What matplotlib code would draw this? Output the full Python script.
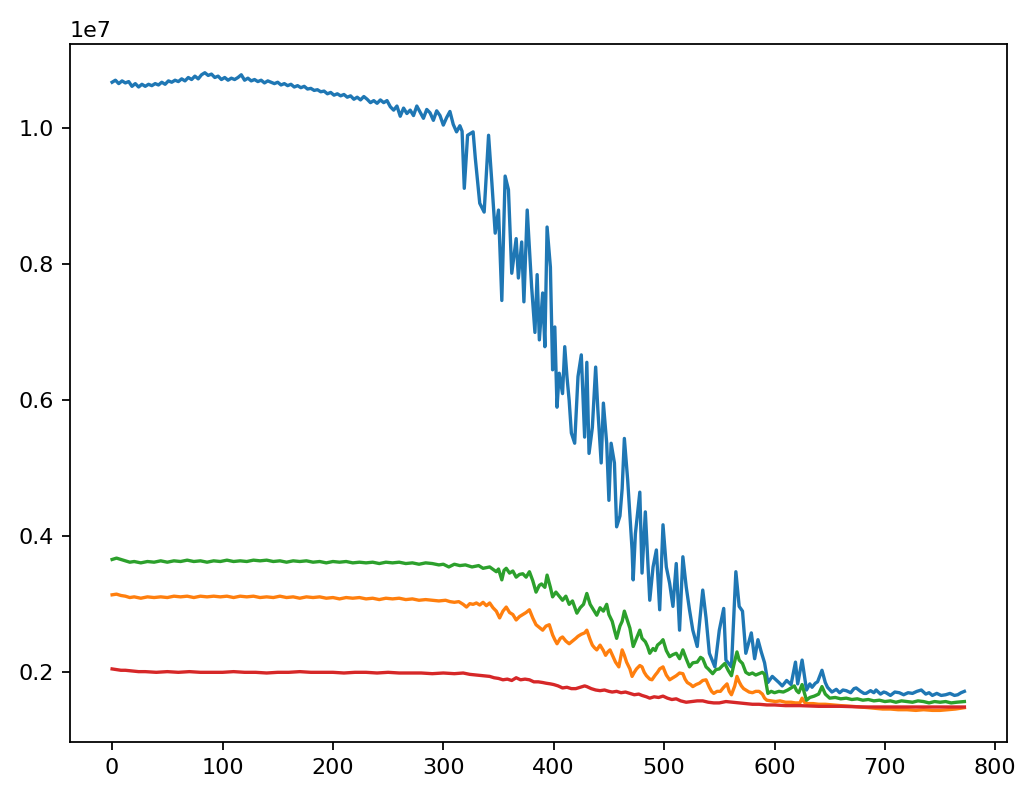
import matplotlib
matplotlib.use("Agg")
import matplotlib.pyplot as plt
import numpy as np

SCALE = 1e7

blue_x = [0, 3, 6, 9, 12, 15, 18, 21, 24, 27, 30, 33, 36, 39, 42, 45, 48, 51, 54, 57,
          60, 63, 66, 69, 72, 75, 78, 81, 84, 87, 90, 93, 96, 99, 102, 105, 108, 111, 114, 117,
          120, 123, 126, 129, 132, 135, 138, 141, 144, 147, 150, 153, 156, 159, 162, 165, 168, 171, 174, 177,
          180, 183, 186, 189, 192, 195, 198, 201, 204, 207, 210, 213, 216, 219, 222, 225, 228, 231, 234, 237,
          240, 243, 246, 249, 252, 255, 258, 261, 264, 267, 270, 273, 276, 279, 282, 285, 288, 291, 294, 297,
          300, 303, 306, 309, 312, 315, 317, 319, 322, 327,
          329, 333, 337, 341, 344, 347, 350, 353, 356, 359, 362, 366, 368, 371, 373, 376, 380, 383, 385, 387,
          390, 392, 394, 397, 399, 401, 403, 405, 408, 410, 412, 414, 416, 419, 422, 425, 428, 430, 432, 435,
          438, 440, 443, 445, 448, 450, 452, 455, 457, 460, 462, 464, 467, 471, 472, 474, 478, 480, 483, 487,
          490, 493, 496, 499, 502, 505, 508, 511, 514, 517, 520, 523, 526, 530, 535, 538, 541, 546, 550, 554,
          556, 561, 565, 568, 571, 574, 579, 582, 585, 588, 591, 594, 598,
          604, 607, 611, 615, 619, 621, 625, 629, 632, 634, 637, 639, 643, 646, 648, 652, 656, 659, 662, 665,
          669, 672, 674, 678, 681, 683, 687, 690, 692, 696, 699, 701, 705, 709, 713, 717, 721, 725, 729, 733,
          737, 740, 743, 747, 751, 755, 759, 763, 766, 769, 772]
blue_y = [1.068, 1.071, 1.066, 1.070, 1.067, 1.069, 1.062, 1.066, 1.061, 1.065, 1.062, 1.065, 1.063, 1.066, 1.064, 1.068, 1.065, 1.070, 1.068, 1.071,
          1.069, 1.073, 1.070, 1.075, 1.072, 1.077, 1.073, 1.079, 1.082, 1.078, 1.080, 1.075, 1.077, 1.072, 1.075, 1.071, 1.074, 1.072, 1.075, 1.079,
          1.071, 1.074, 1.070, 1.072, 1.069, 1.071, 1.067, 1.070, 1.068, 1.066, 1.068, 1.064, 1.066, 1.063, 1.065, 1.061, 1.063, 1.060, 1.062, 1.058,
          1.059, 1.056, 1.057, 1.054, 1.055, 1.051, 1.053, 1.049, 1.051, 1.048, 1.050, 1.046, 1.048, 1.043, 1.046, 1.042, 1.047, 1.043, 1.038, 1.041,
          1.037, 1.042, 1.038, 1.041, 1.032, 1.027, 1.033, 1.018, 1.030, 1.022, 1.027, 1.019, 1.033, 1.024, 1.015, 1.028, 1.023, 1.012, 1.026, 1.019,
          1.005, 1.016, 1.025, 1.006, 0.995, 1.004, 0.996, 0.912, 0.990, 0.995,
          0.956, 0.890, 0.877, 0.990, 0.920, 0.846, 0.880, 0.747, 0.930, 0.910, 0.787, 0.838, 0.780, 0.833, 0.745, 0.880, 0.767, 0.700, 0.785, 0.689,
          0.758, 0.679, 0.855, 0.796, 0.645, 0.708, 0.590, 0.640, 0.610, 0.679, 0.635, 0.600, 0.552, 0.537, 0.635, 0.667, 0.546, 0.656, 0.522, 0.560,
          0.649, 0.586, 0.508, 0.596, 0.537, 0.453, 0.537, 0.508, 0.414, 0.430, 0.470, 0.544, 0.483, 0.380, 0.336, 0.404, 0.465, 0.346, 0.436, 0.306,
          0.355, 0.380, 0.292, 0.417, 0.355, 0.331, 0.297, 0.360, 0.262, 0.370, 0.326, 0.292, 0.262, 0.238, 0.321, 0.280, 0.228, 0.208, 0.262, 0.294,
          0.218, 0.208, 0.348, 0.297, 0.290, 0.228, 0.258, 0.220, 0.248, 0.230, 0.214, 0.185, 0.194,
          0.185, 0.180, 0.188, 0.182, 0.215, 0.183, 0.218, 0.174, 0.183, 0.178, 0.184, 0.186, 0.203, 0.185, 0.178, 0.171, 0.175, 0.170, 0.174, 0.173,
          0.170, 0.176, 0.177, 0.172, 0.169, 0.169, 0.173, 0.170, 0.174, 0.168, 0.171, 0.170, 0.166, 0.171, 0.170, 0.167, 0.170, 0.169, 0.172, 0.174,
          0.168, 0.170, 0.166, 0.169, 0.166, 0.167, 0.169, 0.166, 0.167, 0.170, 0.172]

orange_x = [0, 4, 8, 12, 16, 20, 26, 32, 38, 44, 50, 56, 62, 68, 74, 80, 86, 92, 98, 104,
            110, 116, 122, 128, 134, 140, 146, 152, 158, 164, 170, 176, 182, 188, 194, 200, 206, 212, 218, 224,
            230, 236, 242, 248, 254, 260, 266, 272, 278, 284, 290, 296, 302, 306, 310, 314, 318, 321, 324, 327,
            330, 333, 336, 339, 342, 345, 348, 351, 354, 357, 360, 363, 366, 369, 372, 375, 378, 381, 384, 387,
            390, 393, 396, 399, 401, 403, 406, 408, 411, 414, 417, 420, 422, 425, 428, 430, 433, 435, 437, 439,
            442, 445, 447, 449, 451, 454, 456, 459, 462, 464, 466, 469, 471, 473, 475, 478, 480, 482, 484, 487,
            489, 492, 494, 496, 499, 502, 505, 508, 511, 514, 517, 519, 521, 524, 526, 529, 532, 535, 538, 541,
            543, 545, 548, 551, 554, 557, 559, 561, 564, 566, 568, 570, 572, 574, 577, 580, 583, 586, 589, 591,
            593, 597, 601, 605, 610, 615, 619, 623, 625, 627, 630, 635, 640, 646, 653, 660, 670, 678, 685, 692,
            698, 705, 712, 720, 728, 735, 743, 750, 757, 764, 768, 772]
orange_y = [0.314, 0.315, 0.313, 0.312, 0.310, 0.311, 0.309, 0.311, 0.310, 0.311, 0.310, 0.312, 0.311, 0.312, 0.310, 0.312, 0.311, 0.312, 0.311, 0.312,
            0.310, 0.312, 0.311, 0.312, 0.310, 0.311, 0.310, 0.312, 0.310, 0.311, 0.309, 0.311, 0.310, 0.311, 0.309, 0.310, 0.308, 0.310, 0.309, 0.310,
            0.308, 0.309, 0.307, 0.309, 0.308, 0.309, 0.307, 0.308, 0.306, 0.307, 0.306, 0.305, 0.306, 0.304, 0.303, 0.304, 0.300, 0.296, 0.301, 0.300,
            0.302, 0.299, 0.303, 0.298, 0.302, 0.295, 0.290, 0.280, 0.290, 0.296, 0.288, 0.285, 0.277, 0.282, 0.285, 0.288, 0.292, 0.280, 0.270, 0.266,
            0.262, 0.268, 0.270, 0.255, 0.248, 0.242, 0.250, 0.252, 0.246, 0.242, 0.246, 0.250, 0.253, 0.256, 0.258, 0.262, 0.248, 0.240, 0.236, 0.233,
            0.240, 0.232, 0.225, 0.230, 0.233, 0.222, 0.215, 0.208, 0.233, 0.225, 0.215, 0.205, 0.194, 0.200, 0.205, 0.210, 0.208, 0.200, 0.195, 0.190,
            0.189, 0.196, 0.200, 0.205, 0.208, 0.196, 0.189, 0.192, 0.195, 0.199, 0.198, 0.190, 0.185, 0.182, 0.179, 0.182, 0.184, 0.188, 0.189, 0.178,
            0.172, 0.169, 0.172, 0.172, 0.178, 0.183, 0.172, 0.167, 0.180, 0.194, 0.186, 0.180, 0.176, 0.174, 0.171, 0.170, 0.172, 0.172, 0.168, 0.162,
            0.159, 0.158, 0.157, 0.158, 0.156, 0.156, 0.155, 0.155, 0.162, 0.156, 0.154, 0.154, 0.153, 0.153, 0.152, 0.151, 0.150, 0.149, 0.148, 0.147,
            0.146, 0.146, 0.145, 0.145, 0.144, 0.145, 0.144, 0.144, 0.145, 0.146, 0.147, 0.148]

green_x = [0, 4, 8, 12, 16, 20, 26, 32, 38, 44, 50, 56, 62, 68, 74, 80, 86, 92, 98, 104,
           110, 116, 122, 128, 134, 140, 146, 152, 158, 164, 170, 176, 182, 188, 194, 200, 206, 212, 218, 224,
           230, 236, 242, 248, 254, 260, 266, 272, 278, 284, 290, 296, 300, 305, 310, 315, 320, 326, 332, 336,
           342, 348, 350, 353, 355, 357, 360, 363, 366, 369, 372, 375, 378, 381, 384, 387, 389, 392, 394, 397,
           399, 402, 405, 408, 411, 414, 417, 421, 424, 427, 430, 433, 436, 439, 442, 445, 448, 450, 453, 455,
           457, 460, 462, 464, 467, 469, 472, 475, 478, 480, 483, 485, 487, 490, 492, 494, 497, 499, 502, 505,
           508, 511, 514, 517, 520, 523, 526, 530, 533, 535, 538, 540, 544, 547, 550, 553, 555, 558, 561, 563,
           566, 568, 571, 574, 577, 580, 583, 586, 589, 591, 594, 597, 600, 604, 608, 612, 615, 618, 620, 622,
           625, 627, 629, 632, 636, 640, 643, 646, 650, 655, 660, 665, 670, 675, 680, 685, 690, 695, 700, 705,
           710, 715, 720, 725, 730, 735, 740, 745, 750, 755, 760, 765, 772]
green_y = [0.366, 0.368, 0.366, 0.364, 0.362, 0.363, 0.361, 0.363, 0.362, 0.364, 0.362, 0.364, 0.363, 0.365, 0.363, 0.364, 0.362, 0.364, 0.363, 0.365,
           0.363, 0.364, 0.363, 0.365, 0.364, 0.365, 0.363, 0.364, 0.362, 0.364, 0.363, 0.364, 0.362, 0.363, 0.361, 0.363, 0.362, 0.363, 0.361, 0.362,
           0.361, 0.362, 0.360, 0.362, 0.361, 0.362, 0.360, 0.361, 0.359, 0.361, 0.360, 0.358, 0.359, 0.355, 0.359, 0.357, 0.358, 0.355, 0.357, 0.353,
           0.355, 0.348, 0.352, 0.336, 0.350, 0.353, 0.346, 0.349, 0.340, 0.344, 0.345, 0.340, 0.348, 0.335, 0.318, 0.328, 0.330, 0.325, 0.343, 0.325,
           0.311, 0.318, 0.312, 0.306, 0.312, 0.300, 0.305, 0.287, 0.295, 0.300, 0.316, 0.300, 0.292, 0.284, 0.295, 0.290, 0.300, 0.285, 0.275, 0.262,
           0.250, 0.268, 0.275, 0.290, 0.275, 0.265, 0.238, 0.250, 0.262, 0.250, 0.245, 0.238, 0.228, 0.235, 0.232, 0.240, 0.244, 0.248, 0.232, 0.223,
           0.226, 0.228, 0.220, 0.233, 0.220, 0.208, 0.214, 0.215, 0.222, 0.220, 0.208, 0.205, 0.198, 0.204, 0.205, 0.210, 0.213, 0.203, 0.195, 0.210,
           0.230, 0.218, 0.213, 0.200, 0.197, 0.199, 0.196, 0.198, 0.200, 0.197, 0.169, 0.172, 0.170, 0.172, 0.171, 0.174, 0.177, 0.180, 0.173, 0.170,
           0.182, 0.170, 0.159, 0.163, 0.165, 0.168, 0.179, 0.168, 0.162, 0.163, 0.161, 0.162, 0.160, 0.161, 0.159, 0.160, 0.158, 0.159, 0.157, 0.158,
           0.156, 0.158, 0.157, 0.156, 0.158, 0.157, 0.155, 0.157, 0.156, 0.157, 0.155, 0.156, 0.157]

red_x = [0, 4, 8, 12, 18, 24, 30, 40, 50, 60, 70, 80, 90, 100, 110, 120, 130, 140, 150, 160,
         170, 180, 190, 200, 210, 220, 230, 240, 250, 260, 270, 280, 290, 300, 310, 318, 324, 330, 336, 342,
         346, 350, 354, 358, 362, 366, 370, 374, 378, 382, 386, 390, 393, 397, 400, 404, 408, 412, 416, 420,
         424, 428, 430, 434, 438, 442, 446, 450, 453, 457, 461, 465, 469, 473, 477, 480, 484, 487, 491, 495,
         499, 503, 507, 511, 515, 520, 525, 530, 535, 540, 545, 550, 556, 562, 568, 574, 580, 586, 593, 600,
         610, 623, 640, 660, 680, 698, 720, 740, 760, 772]
red_y = [0.205, 0.204, 0.203, 0.203, 0.202, 0.201, 0.201, 0.200, 0.201, 0.200, 0.201, 0.200, 0.200, 0.200, 0.201, 0.200, 0.200, 0.199, 0.200, 0.200,
         0.201, 0.200, 0.200, 0.200, 0.199, 0.200, 0.200, 0.199, 0.200, 0.199, 0.199, 0.199, 0.198, 0.199, 0.198, 0.199, 0.197, 0.196, 0.195, 0.194,
         0.192, 0.191, 0.189, 0.190, 0.188, 0.192, 0.189, 0.190, 0.189, 0.186, 0.186, 0.185, 0.184, 0.183, 0.182, 0.180, 0.177, 0.178, 0.176, 0.176,
         0.178, 0.180, 0.179, 0.176, 0.174, 0.173, 0.174, 0.172, 0.171, 0.172, 0.170, 0.171, 0.169, 0.167, 0.168, 0.166, 0.164, 0.162, 0.164, 0.163,
         0.165, 0.162, 0.160, 0.161, 0.158, 0.156, 0.157, 0.158, 0.158, 0.156, 0.155, 0.155, 0.157, 0.156, 0.155, 0.154, 0.153, 0.153, 0.152, 0.152,
         0.151, 0.151, 0.150, 0.150, 0.149, 0.149, 0.149, 0.149, 0.149, 0.149]

fig = plt.figure(figsize=(1022 / 160, 785 / 160), dpi=160)
ax = fig.add_axes([69.5 / 1022, 1 - 742 / 785, (1007 - 69.5) / 1022, (742 - 43.5) / 785])

ax.plot(blue_x, np.array(blue_y) * SCALE, color="#1f77b4")
ax.plot(orange_x, np.array(orange_y) * SCALE, color="#ff7f0e")
ax.plot(green_x, np.array(green_y) * SCALE, color="#2ca02c")
ax.plot(red_x, np.array(red_y) * SCALE, color="#d62728")

ax.set_xlim(-38.6, 810.6)
ax.set_ylim(0.0975 * SCALE, 1.125 * SCALE)
ax.set_xticks(np.arange(0, 801, 100))
ax.set_yticks(np.array([0.2, 0.4, 0.6, 0.8, 1.0]) * SCALE)

fig.savefig("out.png", dpi=160)
